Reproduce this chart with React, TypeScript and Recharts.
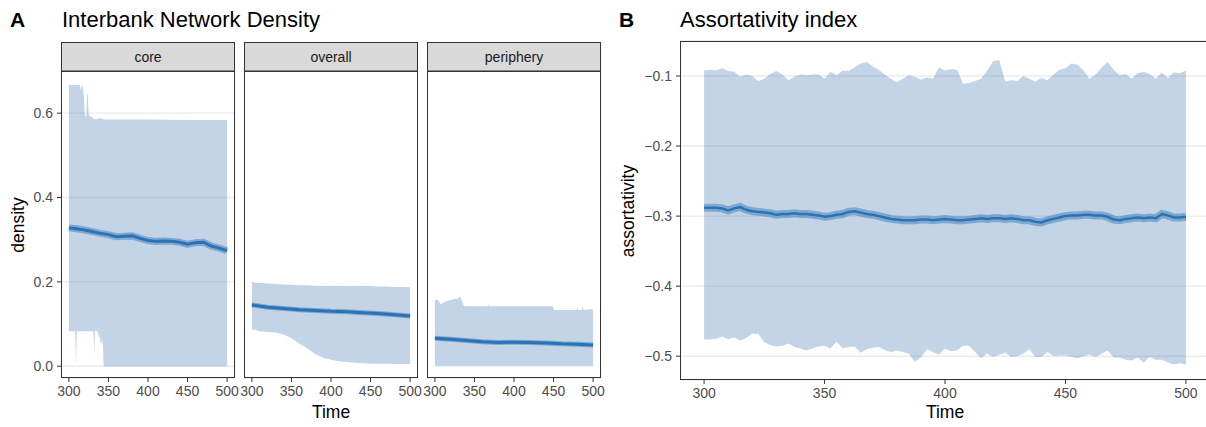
import React from 'react';
import { ComposedChart, Area, Line, XAxis, YAxis, CartesianGrid } from 'recharts';

// ---------- ticks ----------
const timeTicks = [300, 350, 400, 450, 500];
const densityTicks = [0, 0.2, 0.4, 0.6];
const assortTicks = [-0.5, -0.4, -0.3, -0.2, -0.1];

// ---------- Panel A : core ----------
const coreRibbonTime = [300, 308, 309, 310, 314, 315, 316, 317, 319, 320, 322, 323, 324, 325, 327, 330, 331, 332, 333, 336, 338, 339, 340, 341, 342, 343, 344, 350, 400, 450, 500];
const coreRibbonHigh = [0.667, 0.667, 0.667, 0.667, 0.667, 0.655, 0.662, 0.667, 0.640, 0.600, 0.588, 0.650, 0.640, 0.596, 0.592, 0.590, 0.586, 0.586, 0.586, 0.586, 0.589, 0.586, 0.589, 0.586, 0.589, 0.586, 0.585, 0.585, 0.585, 0.584, 0.584];
const coreRibbonLow = [0.083, 0.083, 0.000, 0.083, 0.083, 0.083, 0.083, 0.083, 0.083, 0.083, 0.083, 0.083, 0.083, 0.083, 0.083, 0.083, 0.083, 0.028, 0.083, 0.083, 0.070, 0.070, 0.058, 0.050, 0.065, 0.050, 0.000, 0.000, 0.000, 0.000, 0.000];
const coreMeanTime = [300, 310, 320, 330, 340, 350, 360, 370, 380, 390, 400, 410, 420, 430, 440, 450, 460, 470, 480, 490, 500];
const coreMean = [0.328, 0.326, 0.323, 0.319, 0.315, 0.312, 0.307, 0.308, 0.309, 0.303, 0.298, 0.296, 0.297, 0.296, 0.294, 0.289, 0.293, 0.294, 0.285, 0.280, 0.274];

// ---------- Panel A : overall ----------
const overallRibbonTime = [300, 305, 310, 320, 330, 340, 350, 360, 370, 380, 390, 400, 410, 420, 430, 440, 450, 460, 470, 480, 490, 500];
const overallRibbonHigh = [0.200, 0.198, 0.197, 0.196, 0.195, 0.194, 0.193, 0.192, 0.192, 0.191, 0.190, 0.191, 0.190, 0.190, 0.191, 0.190, 0.190, 0.189, 0.189, 0.188, 0.188, 0.187];
const overallRibbonLow = [0.087, 0.086, 0.083, 0.081, 0.080, 0.075, 0.066, 0.054, 0.042, 0.029, 0.020, 0.015, 0.012, 0.010, 0.008, 0.007, 0.006, 0.006, 0.006, 0.005, 0.005, 0.005];
const overallMeanTime = [300, 320, 340, 360, 380, 400, 420, 440, 460, 480, 500];
const overallMean = [0.145, 0.140, 0.137, 0.134, 0.132, 0.130, 0.129, 0.127, 0.125, 0.122, 0.119];

// ---------- Panel A : periphery ----------
const periRibbonTime = [300, 302, 304, 306, 308, 310, 314, 320, 326, 330, 332, 334, 336, 338, 350, 360, 367, 368, 369, 380, 400, 420, 440, 449, 451, 460, 470, 479, 480, 481, 486, 487, 488, 495, 500];
const periRibbonHigh = [0.158, 0.157, 0.158, 0.150, 0.146, 0.150, 0.154, 0.157, 0.160, 0.161, 0.166, 0.156, 0.145, 0.142, 0.142, 0.142, 0.142, 0.145, 0.142, 0.142, 0.142, 0.142, 0.142, 0.142, 0.133, 0.133, 0.133, 0.133, 0.140, 0.133, 0.133, 0.142, 0.133, 0.135, 0.135];
const periRibbonLow = [0.000, 0.000, 0.000, 0.000, 0.000, 0.000, 0.000, 0.000, 0.000, 0.000, 0.000, 0.000, 0.000, 0.000, 0.000, 0.000, 0.000, 0.000, 0.000, 0.000, 0.000, 0.000, 0.000, 0.000, 0.000, 0.000, 0.000, 0.000, 0.000, 0.000, 0.000, 0.000, 0.000, 0.000, 0.000];
const periMeanTime = [300, 320, 340, 360, 380, 400, 420, 440, 460, 480, 500];
const periMean = [0.066, 0.064, 0.061, 0.058, 0.056, 0.057, 0.056, 0.055, 0.053, 0.052, 0.050];

// ---------- Panel B : assortativity ----------
const bTime = [300, 302.5, 305, 307.5, 310, 312.5, 315, 317.5, 320, 322.5, 325, 327.5, 330, 332.5, 335, 337.5, 340, 342.5, 345, 347.5, 350, 352.5, 355, 357.5, 360, 362.5, 365, 367.5, 370, 372.5, 375, 377.5, 380, 382.5, 385, 387.5, 390, 392.5, 395, 397.5, 400, 402.5, 405, 407.5, 410, 412.5, 415, 417.5, 420, 422.5, 425, 427.5, 430, 432.5, 435, 437.5, 440, 442.5, 445, 447.5, 450, 452.5, 455, 457.5, 460, 462.5, 465, 467.5, 470, 472.5, 475, 477.5, 480, 482.5, 485, 487.5, 490, 492.5, 495, 497.5, 500];
const bHigh = [-0.092, -0.091, -0.092, -0.089, -0.093, -0.094, -0.101, -0.098, -0.100, -0.107, -0.104, -0.097, -0.093, -0.098, -0.106, -0.101, -0.098, -0.099, -0.098, -0.098, -0.104, -0.094, -0.099, -0.092, -0.093, -0.088, -0.082, -0.080, -0.086, -0.091, -0.098, -0.104, -0.109, -0.104, -0.099, -0.101, -0.105, -0.102, -0.104, -0.088, -0.092, -0.090, -0.091, -0.111, -0.110, -0.107, -0.104, -0.092, -0.079, -0.077, -0.108, -0.106, -0.107, -0.100, -0.104, -0.108, -0.103, -0.106, -0.098, -0.091, -0.089, -0.082, -0.084, -0.092, -0.104, -0.098, -0.088, -0.080, -0.091, -0.099, -0.097, -0.104, -0.096, -0.094, -0.097, -0.104, -0.095, -0.103, -0.095, -0.096, -0.092];
const bLow = [-0.476, -0.476, -0.475, -0.472, -0.476, -0.473, -0.478, -0.474, -0.468, -0.468, -0.480, -0.484, -0.486, -0.485, -0.482, -0.487, -0.489, -0.492, -0.489, -0.486, -0.485, -0.489, -0.479, -0.489, -0.487, -0.486, -0.495, -0.490, -0.488, -0.487, -0.491, -0.494, -0.492, -0.494, -0.496, -0.508, -0.502, -0.490, -0.494, -0.498, -0.489, -0.493, -0.492, -0.485, -0.485, -0.494, -0.503, -0.496, -0.501, -0.498, -0.495, -0.501, -0.500, -0.496, -0.490, -0.501, -0.501, -0.494, -0.500, -0.499, -0.499, -0.501, -0.503, -0.500, -0.498, -0.501, -0.497, -0.492, -0.502, -0.502, -0.505, -0.506, -0.502, -0.509, -0.501, -0.505, -0.505, -0.509, -0.512, -0.510, -0.512];
const bMean = [-0.288, -0.288, -0.288, -0.289, -0.292, -0.289, -0.287, -0.291, -0.293, -0.294, -0.295, -0.296, -0.298, -0.297, -0.297, -0.296, -0.297, -0.297, -0.298, -0.299, -0.301, -0.300, -0.298, -0.297, -0.294, -0.293, -0.295, -0.297, -0.298, -0.300, -0.302, -0.304, -0.305, -0.306, -0.306, -0.306, -0.305, -0.305, -0.306, -0.305, -0.304, -0.305, -0.306, -0.306, -0.305, -0.304, -0.303, -0.304, -0.303, -0.303, -0.304, -0.303, -0.304, -0.306, -0.306, -0.308, -0.309, -0.306, -0.304, -0.302, -0.300, -0.299, -0.299, -0.298, -0.298, -0.299, -0.299, -0.301, -0.305, -0.306, -0.304, -0.303, -0.302, -0.303, -0.302, -0.303, -0.297, -0.299, -0.302, -0.302, -0.301];

// ---------- helpers ----------
const toRibbon = (t: number[], lo: number[], hi: number[]) => t.map((x, i) => ({ t: x, range: [lo[i], hi[i]] as [number, number] }));
const toLine = (t: number[], v: number[]) => t.map((x, i) => ({ t: x, v: v[i] }));

const FONT = '"Liberation Sans", Arial, Helvetica, sans-serif';
const RIBBON_FILL = '#5484b8';
const LINE_COLOR = '#2a74b5';
const tickStyle = { fill: '#4d4d4d', fontSize: 14, fontFamily: FONT };

type FacetProps = {
  left: number;
  ribbon: { t: number; range: [number, number] }[];
  mean: { t: number; v: number }[];
  showY: boolean;
  bandWidth: number;
};

function Facet({ left, ribbon, mean, showY, bandWidth }: FacetProps) {
  return (
    <div style={{ position: 'absolute', left, top: 0 }}>
      <ComposedChart width={260} height={427} data={ribbon} margin={{ top: 71, right: 25, bottom: 24, left: 0 }}>
        <CartesianGrid vertical={false} stroke="#ebebeb" strokeWidth={1.4} />
        <XAxis
          type="number"
          dataKey="t"
          domain={[290, 510]}
          ticks={timeTicks}
          interval={0}
          height={25}
          tickSize={4}
          tickMargin={4}
          axisLine={false}
          tickLine={{ stroke: '#333333' }}
          tick={tickStyle}
          allowDataOverflow
        />
        <YAxis
          type="number"
          domain={[-0.028, 0.7]}
          ticks={densityTicks}
          interval={0}
          width={61}
          tickSize={4}
          tickMargin={4}
          axisLine={false}
          tickLine={showY ? { stroke: '#333333' } : false}
          tick={showY ? tickStyle : false}
          tickFormatter={(v: number) => v.toFixed(1)}
          allowDataOverflow
        />
        <Area dataKey="range" type="linear" stroke="none" fill={RIBBON_FILL} fillOpacity={0.35} isAnimationActive={false} activeDot={false} />
        <Line data={mean} dataKey="v" type="linear" stroke={LINE_COLOR} strokeOpacity={0.45} strokeWidth={bandWidth} dot={false} activeDot={false} isAnimationActive={false} />
        <Line data={mean} dataKey="v" type="linear" stroke={LINE_COLOR} strokeWidth={3} dot={false} activeDot={false} isAnimationActive={false} />
      </ComposedChart>
    </div>
  );
}

export default function App() {
  const coreR = toRibbon(coreRibbonTime, coreRibbonLow, coreRibbonHigh);
  const overallR = toRibbon(overallRibbonTime, overallRibbonLow, overallRibbonHigh);
  const periR = toRibbon(periRibbonTime, periRibbonLow, periRibbonHigh);
  const bData = bTime.map((t, i) => ({ t, range: [bLow[i], bHigh[i]] as [number, number], v: bMean[i] }));

  const facets = [
    { name: 'core', x: 61 },
    { name: 'overall', x: 244 },
    { name: 'periphery', x: 427 },
  ];

  return (
    <div style={{ position: 'absolute', left: 0, top: 0, width: 1206, height: 427, overflow: 'hidden', background: '#ffffff', fontFamily: FONT }}>
      <Facet left={0} ribbon={coreR} mean={toLine(coreMeanTime, coreMean)} showY={true} bandWidth={7} />
      <Facet left={183} ribbon={overallR} mean={toLine(overallMeanTime, overallMean)} showY={false} bandWidth={5} />
      <Facet left={366} ribbon={periR} mean={toLine(periMeanTime, periMean)} showY={false} bandWidth={5} />

      <div style={{ position: 'absolute', left: 600, top: 0 }}>
        <ComposedChart width={630} height={427} data={bData} margin={{ top: 41, right: 20, bottom: 22, left: 0 }}>
          <CartesianGrid vertical={false} stroke="#ebebeb" strokeWidth={1.4} />
          <XAxis
            type="number"
            dataKey="t"
            domain={[290, 510]}
            ticks={timeTicks}
            interval={0}
            height={25}
            tickSize={4}
            tickMargin={4}
            axisLine={false}
            tickLine={{ stroke: '#333333' }}
            tick={tickStyle}
            allowDataOverflow
          />
          <YAxis
            type="number"
            domain={[-0.534, -0.05]}
            ticks={assortTicks}
            interval={0}
            width={80}
            tickSize={4}
            tickMargin={4}
            axisLine={false}
            tickLine={{ stroke: '#333333' }}
            tick={tickStyle}
            tickFormatter={(v: number) => v.toFixed(1).replace('-', '\u2212')}
            allowDataOverflow
          />
          <Area dataKey="range" type="linear" stroke="none" fill={RIBBON_FILL} fillOpacity={0.35} isAnimationActive={false} activeDot={false} />
          <Line dataKey="v" type="linear" stroke={LINE_COLOR} strokeOpacity={0.45} strokeWidth={8} dot={false} activeDot={false} isAnimationActive={false} />
          <Line dataKey="v" type="linear" stroke={LINE_COLOR} strokeWidth={2.5} dot={false} activeDot={false} isAnimationActive={false} />
        </ComposedChart>
      </div>

      <svg width={1206} height={427} style={{ position: 'absolute', left: 0, top: 0, pointerEvents: 'none' }}>
        {facets.map((f) => (
          <g key={f.name}>
            <rect x={f.x + 0.5} y={42.5} width={173} height={28.5} fill="#d9d9d9" stroke="#333333" strokeWidth={1} />
            <text x={f.x + 87} y={61.5} textAnchor="middle" fontSize={14} fill="#1a1a1a" fontFamily={FONT}>{f.name}</text>
            <rect x={f.x + 0.5} y={71.5} width={173} height={306} fill="none" stroke="#333333" strokeWidth={1} />
          </g>
        ))}
        <rect x={680.5} y={41.5} width={540} height={338} fill="none" stroke="#333333" strokeWidth={1} />

        <text x={10} y={27} fontSize={21} fontWeight="bold" fill="#000" fontFamily={FONT}>A</text>
        <text x={62} y={27} fontSize={22} fill="#000" fontFamily={FONT}>Interbank Network Density</text>
        <text x={619} y={27} fontSize={21} fontWeight="bold" fill="#000" fontFamily={FONT}>B</text>
        <text x={680} y={27} fontSize={22} fill="#000" fontFamily={FONT}>Assortativity index</text>

        <text x={331} y={418} textAnchor="middle" fontSize={17.5} fill="#000" fontFamily={FONT}>Time</text>
        <text x={945} y={418} textAnchor="middle" fontSize={17.5} fill="#000" fontFamily={FONT}>Time</text>
        <text transform="translate(24,225) rotate(-90)" textAnchor="middle" fontSize={17.5} fill="#000" fontFamily={FONT}>density</text>
        <text transform="translate(634,211) rotate(-90)" textAnchor="middle" fontSize={17.5} fill="#000" fontFamily={FONT}>assortativity</text>
      </svg>
    </div>
  );
}
